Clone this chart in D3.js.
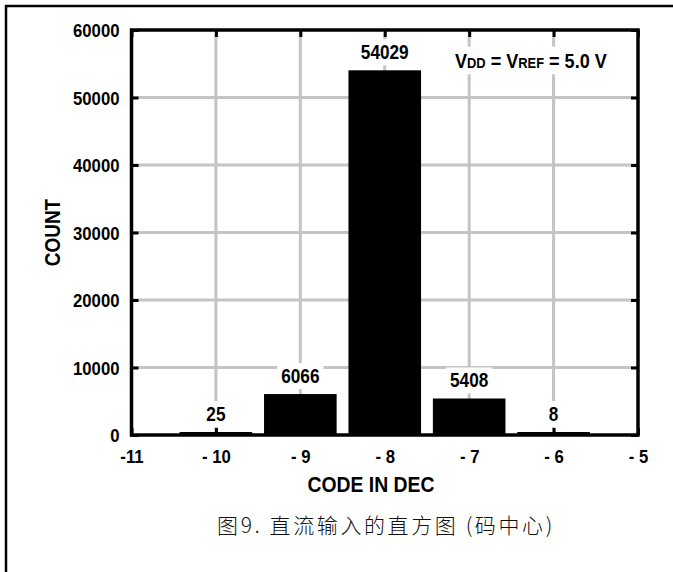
<!DOCTYPE html>
<html><head><meta charset="utf-8">
<script src="https://cdn.jsdelivr.net/npm/d3@7/dist/d3.min.js"></script>
<style>
html,body{margin:0;padding:0;background:#fff;}
svg{display:block;}
.nar{font-family:"Liberation Sans Narrow","Arial Narrow","Liberation Sans",Arial,sans-serif;font-weight:bold;}
</style></head>
<body><svg id="c" width="673" height="572"></svg>
<script>
const codes = [-10, -9, -8, -7, -6];
const counts = [25, 6066, 54029, 5408, 8];
const xTicks = [-11, -10, -9, -8, -7, -6, -5];
const xTickLabels = ["-11", "- 10", "- 9", "- 8", "- 7", "- 6", "- 5"];
const yTicks = [0, 10000, 20000, 30000, 40000, 50000, 60000];

const svg = d3.select("#c");
const W = 673, H = 572;
const L = 131.5, R = 638, T = 30, B = 435;
const x = d3.scaleLinear().domain([-11, -5]).range([L, R]);
const y = d3.scaleLinear().domain([0, 60000]).range([B, T]);

function squeeze(sel, k) {
  sel.each(function () {
    const len = this.getComputedTextLength();
    d3.select(this).attr("textLength", len * k).attr("lengthAdjust", "spacingAndGlyphs");
  });
}

// outer border
svg.append("line").attr("x1", 5).attr("x2", W).attr("y1", 6).attr("y2", 6).attr("stroke", "#000").attr("stroke-width", 2.5);
svg.append("line").attr("x1", 6).attr("x2", 6).attr("y1", 5).attr("y2", H).attr("stroke", "#000").attr("stroke-width", 2.5);

// grid
const grid = svg.append("g");
xTicks.slice(1, -1).forEach(t => {
  grid.append("line").attr("x1", x(t)).attr("x2", x(t)).attr("y1", T).attr("y2", B)
    .attr("stroke", "#c4c4c4").attr("stroke-width", 3);
});
yTicks.slice(1, -1).forEach(t => {
  grid.append("line").attr("x1", L).attr("x2", R).attr("y1", y(t)).attr("y2", y(t))
    .attr("stroke", "#c4c4c4").attr("stroke-width", 3);
});

const bgG = svg.append("g");

// bars
const bw = x(-10 + 0.43) - x(-10 - 0.43);
svg.append("g").selectAll("rect").data(codes).join("rect")
  .attr("x", (d) => x(d) - bw / 2)
  .attr("width", bw)
  .attr("y", (d, i) => Math.min(y(counts[i]), B - 3))
  .attr("height", (d, i) => B - Math.min(y(counts[i]), B - 3))
  .attr("fill", "#000");

// axes with inward ticks
const ax = d3.axisBottom(x).tickValues(xTicks).tickSize(-7).tickFormat((d, i) => xTickLabels[i]).tickPadding(15);
const gx = svg.append("g").attr("transform", `translate(0,${B})`).call(ax);
const gxt = svg.append("g").attr("transform", `translate(0,${T})`).call(d3.axisTop(x).tickValues(xTicks).tickSize(-7).tickFormat(""));
const ay = d3.axisLeft(y).tickValues(yTicks).tickSize(-7).tickFormat(d3.format("d")).tickPadding(12);
const gy = svg.append("g").attr("transform", `translate(${L},0)`).call(ay);
const gyr = svg.append("g").attr("transform", `translate(${R},0)`).call(d3.axisRight(y).tickValues(yTicks).tickSize(-7).tickFormat(""));
[gx, gxt, gy, gyr].forEach(g => {
  g.select(".domain").remove();
  g.selectAll(".tick line").attr("stroke", "#000").attr("stroke-width", 3);
  g.selectAll("text").attr("class", "nar").attr("font-size", 19).attr("fill", "#000");
});
gx.selectAll("text").attr("dy", "0.71em");
gy.selectAll("text").attr("dy", "0.36em");
squeeze(gx.selectAll("text"), 0.88);
squeeze(gy.selectAll("text"), 0.88);

// frame
svg.append("rect").attr("x", L).attr("y", T).attr("width", R - L).attr("height", B - T)
  .attr("fill", "none").attr("stroke", "#000").attr("stroke-width", 3.5);

// value labels
const vl = svg.append("g").selectAll("text").data(codes).join("text")
  .attr("class", "nar").attr("font-size", 20).attr("text-anchor", "middle")
  .attr("x", d => x(d))
  .attr("y", (d, i) => Math.min(y(counts[i]), B - 3) - 11)
  .text((d, i) => counts[i]);
squeeze(vl, 0.86);
vl.each(function () {
  const b = this.getBBox();
  bgG.append("rect").attr("x", b.x - 4).attr("y", b.y - 2).attr("width", b.width + 8).attr("height", b.height + 4).attr("fill", "#fff");
});

// annotation
const annG = svg.append("g").attr("transform", "translate(455,68) scale(0.86,1)");
const ann = annG.append("text").attr("class", "nar").attr("x", 0).attr("y", 0).attr("font-size", 21);
ann.append("tspan").text("V");
ann.append("tspan").attr("font-size", 15).text("DD");
ann.append("tspan").text(" = V");
ann.append("tspan").attr("font-size", 15).text("REF");
ann.append("tspan").text(" = 5.0 V");
{
  const b = ann.node().getBBox();
  bgG.append("rect").attr("x", 455 + (b.x - 4) * 0.86).attr("y", 68 + b.y - 2)
    .attr("width", (b.width + 8) * 0.86).attr("height", b.height + 4).attr("fill", "#fff");
}

// axis titles
const xt = svg.append("text").attr("class", "nar").attr("font-size", 22).attr("text-anchor", "middle")
  .attr("x", 371).attr("y", 492).text("CODE IN DEC");
squeeze(xt, 0.88);
const yt = svg.append("text").attr("class", "nar").attr("font-size", 22).attr("text-anchor", "middle")
  .attr("transform", `translate(60,${(T + B) / 2}) rotate(-90)`).text("COUNT");
squeeze(yt, 0.86);

// caption
svg.append("text").attr("font-family", "'Noto Sans CJK SC',sans-serif").attr("font-weight", 300)
  .attr("font-size", 21).attr("letter-spacing", 2.6).attr("text-anchor", "middle").attr("fill", "#111")
  .attr("x", 386).attr("y", 533).text("图9. 直流输入的直方图 (码中心)");
</script></body></html>
